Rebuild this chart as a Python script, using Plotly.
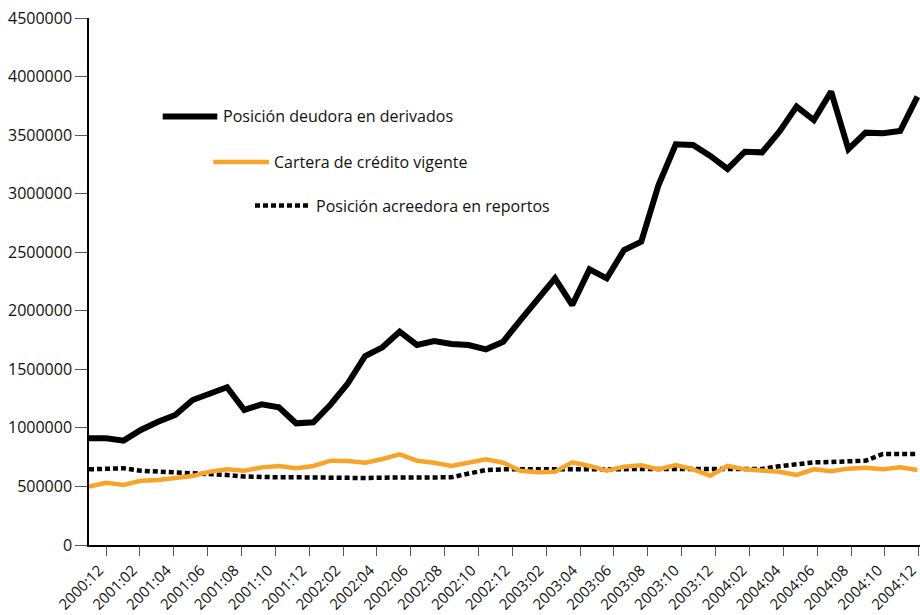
import numpy as np
import plotly.graph_objects as go

# ---- data ----
months = []
for yr in range(2000, 2005):
    for mo in range(1, 13):
        if (yr, mo) >= (2000, 12):
            months.append(f"{yr}:{mo:02d}")

derivados = [911000, 911000, 891000, 982000, 1053000, 1110000, 1238000, 1289000, 1347000,
             1153000, 1201000, 1176000, 1039000, 1048000, 1200000, 1381000, 1614000, 1688000,
             1821000, 1708000, 1742000, 1716000, 1708000, 1671000, 1736000, 1921000, 2107000,
             2277000, 2049000, 2354000, 2277000, 2519000, 2590000, 3074000, 3422000, 3416000,
             3322000, 3211000, 3358000, 3353000, 3529000, 3743000, 3629000, 3871000, 3379000,
             3521000, 3516000, 3535000, 3828000]

cartera = [498000, 532000, 512000, 549000, 555000, 570000, 589000, 626000, 646000,
           634000, 663000, 675000, 655000, 675000, 720000, 717000, 703000, 734000,
           774000, 720000, 703000, 675000, 703000, 732000, 703000, 634000, 621000,
           626000, 706000, 675000, 634000, 669000, 681000, 646000, 683000, 646000,
           592000, 675000, 646000, 634000, 626000, 598000, 646000, 629000, 652000,
           660000, 646000, 663000, 640000]

reportos = [646000, 646000, 655000, 634000, 628000, 620000, 612000, 605000, 598000,
            585000, 578000, 578000, 578000, 575000, 572000, 572000, 572000, 575000,
            575000, 575000, 575000, 578000, 610000, 640000, 646000, 646000, 646000,
            646000, 646000, 646000, 646000, 646000, 646000, 646000, 646000, 646000,
            646000, 646000, 646000, 650000, 672000, 692000, 706000, 709000, 715000,
            720000, 777000, 777000, 777000]

tick_labels = months[::2]
y_ticks = list(range(0, 4500001, 500000))

names = ["Posición deudora en derivados", "Cartera de crédito vigente",
         "Posición acreedora en reportos"]

# ---- layout constants ----
W, H = 920, 615
L, R, T, B = 89, 0, 18, 70
PW, PH = W - L - R, H - T - B
XMAX = 48.15
tickvals = np.linspace(0.985, 48.08, len(tick_labels))

FONT = "Open Sans"
BLACK = "#000000"
ORANGE = "#F7A52A"
TICKC = "#555555"

x = list(range(len(months)))

fig = go.Figure()
fig.add_trace(go.Scatter(x=x, y=reportos, mode="lines", name=names[2],
                         line=dict(color=BLACK, width=4.5, dash="5px,3px"),
                         showlegend=False, customdata=months))
fig.add_trace(go.Scatter(x=x, y=cartera, mode="lines", name=names[1],
                         line=dict(color=ORANGE, width=4.5),
                         showlegend=False, customdata=months))
fig.add_trace(go.Scatter(x=x, y=derivados, mode="lines", name=names[0],
                         line=dict(color=BLACK, width=6),
                         showlegend=False, customdata=months))


def px2paper(px, py):
    return (px - L) / PW, (H - B - py) / PH


# custom staggered legend
legend_items = [
    (162.7, 217.3, 116.5, 221.0, dict(color=BLACK, width=6), names[0]),
    (213.3, 269.0, 162.0, 272.0, dict(color=ORANGE, width=4.5), names[1]),
    (255.0, 310.0, 205.5, 313.5, dict(color=BLACK, width=4.5, dash="5px,3px"), names[2]),
]
for x0p, x1p, yp, txp, ln, nm in legend_items:
    xa, ya = px2paper(x0p, yp)
    xb, _ = px2paper(x1p, yp)
    fig.add_shape(type="line", xref="paper", yref="paper", x0=xa, x1=xb, y0=ya, y1=ya,
                  line=ln, layer="above")
    tx, ty = px2paper(txp, yp)
    fig.add_annotation(xref="paper", yref="paper", x=tx, y=ty, text=nm, showarrow=False,
                       xanchor="left", yanchor="middle",
                       font=dict(family=FONT, size=16, color="#111111"))

axis_common = dict(showgrid=False, zeroline=False, automargin=False)

fig.update_layout(
    width=W, height=H,
    margin=dict(l=L, r=R, t=T, b=B, pad=0, autoexpand=False),
    paper_bgcolor="white", plot_bgcolor="white",
    font=dict(family=FONT, size=16, color="#111111"),
    showlegend=False,
    xaxis=dict(range=[0, XMAX], tickmode="array", tickvals=tickvals, ticktext=tick_labels,
               tickangle=-45, ticks="outside", ticklen=9, tickwidth=1.2, tickcolor=TICKC,
               showline=True, linecolor=BLACK, linewidth=1.5, ticklabeloverflow="allow",
               ticklabelshift=-7,
               tickfont=dict(family=FONT, size=15, color="#111111"), **axis_common),
    yaxis=dict(range=[0, 4500000], tickmode="array", tickvals=y_ticks,
               ticktext=[str(v) for v in y_ticks],
               ticks="outside", ticklen=12, tickwidth=1.2, tickcolor=TICKC,
               showline=True, linecolor=BLACK, linewidth=1.5,
               tickfont=dict(family=FONT, size=16, color="#111111"), **axis_common),
    xaxis2=dict(overlaying="x", anchor="y", side="bottom", range=[0, XMAX],
                tickmode="array", tickvals=tickvals, showticklabels=False,
                ticks="inside", ticklen=5, tickwidth=1.2, tickcolor=TICKC,
                showline=False, **axis_common),
    yaxis2=dict(overlaying="y", anchor="x", side="left", range=[0, 4500000],
                tickmode="array", tickvals=y_ticks, showticklabels=False,
                ticks="inside", ticklen=11, tickwidth=1.2, tickcolor=TICKC,
                showline=False, **axis_common),
)

fig.write_html("out.html", config={"displayModeBar": False},
               post_script="document.body.style.margin='0';document.body.style.overflow='hidden';")
